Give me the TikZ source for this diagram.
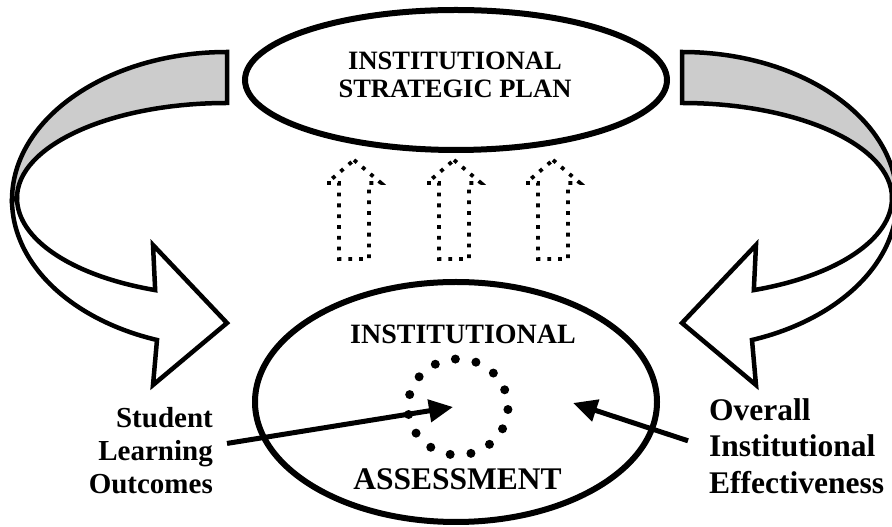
\documentclass[tikz,border=0pt]{standalone}
\usepackage{fontspec}
\setmainfont{Liberation Serif}
\usetikzlibrary{arrows.meta,shapes.geometric}
\definecolor{bandgrey}{gray}{0.8}
\tikzset{
    %Define standard arrow tip
    >={Triangle[length=24pt,width=22pt]},
    %Define style for the two ovals
    oval/.style={
           ellipse,
           draw,
           line width=6pt,
           inner sep=0pt,},
    %Define style for the curved ribbons
    ribbon/.style={
           draw,
           line width=4.5pt,},
    %Define style for the dotted up arrows
    ghost/.style={
           draw,
           line width=3.8pt,
           dash pattern=on 3.8pt off 7pt,},
    %Define style for pointers
    pil/.style={
           ->,
           line width=5pt,}
}

\begin{document}
\begin{tikzpicture}[x=1pt, y=1pt]
 \useasboundingbox (0,0) rectangle (892,527);

 %ribbons
 \foreach \s/\o in {1/0,-1/909}{
  \begin{scope}[shift={(\o,0)}, xscale=\s]
   \draw[ribbon, fill=bandgrey] (227,475) arc[start angle=90, end angle=180, x radius=215, y radius=148]
       -- (17,329) arc[start angle=180, end angle=90, x radius=210, y radius=95] -- cycle;
   \draw[ribbon, fill=white] (17,329) arc[start angle=180, end angle=250, x radius=210, y radius=98]
       -- (153,282) -- (227,204) -- (153,142) -- (157,187)
       arc[start angle=251, end angle=180, x radius=215, y radius=148] -- cycle;
  \end{scope}}

 %nodes
 \node[oval, minimum width=422pt, minimum height=140pt] (plan) at (456,447) {};
 \node[oval, minimum width=402pt, minimum height=240pt] (assess) at (456,125) {};
 \node[font=\bfseries\fontsize{26.5}{28}\selectfont, align=center] (plantitle) at (455,452) {INSTITUTIONAL\\STRATEGIC PLAN};
 \node[font=\bfseries\fontsize{28}{30}\selectfont, anchor=base] (inst) at (463,183) {INSTITUTIONAL};
 \node[font=\bfseries\fontsize{31.5}{34}\selectfont, anchor=base] (asmt) at (457.5,37) {ASSESSMENT};
 \node[font=\bfseries\fontsize{29}{33}\selectfont, align=right, anchor=north east, inner sep=0pt] (slo) at (213,120) {Student\\Learning\\Outcomes};
 \node[font=\bfseries\fontsize{31.5}{36.5}\selectfont, align=left, anchor=north west, inner sep=0pt] (oie) at (709,129) {Overall\\Institutional\\Effectiveness};

 %dotted ring
 \coordinate (hub) at (458,120);
 \foreach \a in {-3,21,...,333}
   \fill (hub) ++(\a:50 and 48) circle (4.5);

 %dotted up arrows
 \foreach \cx in {354,454,553}
   \draw[ghost] (\cx,367) -- ++(27,-23) -- ++(-12,0) -- ++(0,-76) -- ++(-30,0) -- ++(0,76) -- ++(-12,0) -- cycle;

 %pointers
 \coordinate (aim) at ([shift={(115,4)}]hub);
 \draw[pil] ([shift={(14,7)}]slo.east) -- ([xshift=-5pt]hub);
 \draw[pil] ([shift={(-21,5)}]oie.west) -- (aim);

\end{tikzpicture}
\end{document}
